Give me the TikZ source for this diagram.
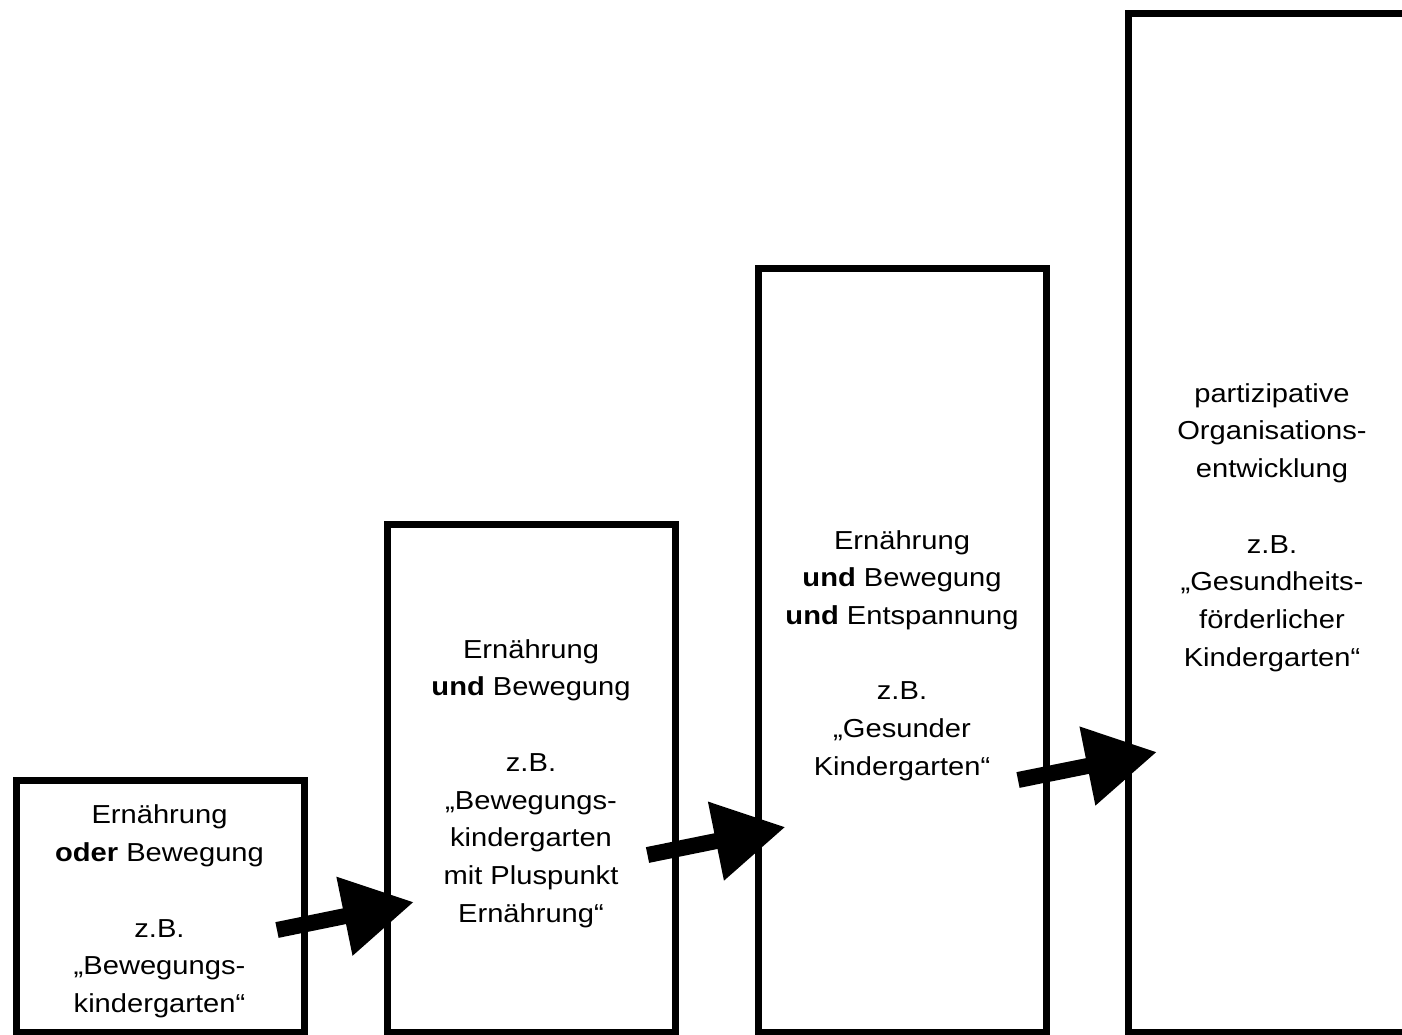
\documentclass[tikz,border=0pt]{standalone}
\usepackage{fontspec}
\setmainfont{Liberation Sans}[FakeStretch=1.12]
\usetikzlibrary{arrows.meta}
\begin{document}
\begin{tikzpicture}[x=1pt,y=-1pt,
  box/.style={draw=black, line width=7pt, inner sep=0pt, outer sep=0pt,
    minimum width=288pt, anchor=north west},
  txt/.style={align=center, font=\fontsize{26}{37.7}\selectfont, inner sep=0pt, text=black},
  bigarrow/.style={line width=16pt, line cap=butt, -{Triangle[length=71pt,width=76pt]}}]
\useasboundingbox (0,0) rectangle (1402,1035);
\clip (0,0) rectangle (1402,1035);

% boxes
\node[box, minimum height=252.5pt] (b1) at (16,780) {};
\node[box, minimum height=508.5pt] (b2) at (387,524) {};
\node[box, minimum height=764.5pt] (b3) at (758,268) {};
\node[box, minimum height=1019pt, minimum width=320pt] (b4) at (1128.5,13.5) {};

% texts
\node[txt] (t1) at (159.5,911.5) {Ernährung\\\textbf{oder} Bewegung\\[37.7pt]z.B.\\„Bewegungs-\\kindergarten“};
\node[txt] (t2) at (531,783.5) {Ernährung\\\textbf{und} Bewegung\\[37.7pt]z.B.\\„Bewegungs-\\kindergarten\\mit Pluspunkt\\Ernährung“};
\node[txt] (t3) at (902,655.5) {Ernährung\\\textbf{und} Bewegung\\\textbf{und} Entspannung\\[37.7pt]z.B.\\„Gesunder\\Kindergarten“};
\node[txt] (t4) at (1272,527.5) {partizipative\\Organisations-\\entwicklung\\[37.7pt]z.B.\\„Gesundheits-\\förderlicher\\Kindergarten“};

% arrow end points
\coordinate (a1s) at (277,930);
\coordinate (a1e) at (414,902);
\coordinate (a2s) at (647.5,855);
\coordinate (a2e) at (785.5,827);
\coordinate (a3s) at (1018,780);
\coordinate (a3e) at (1157,752);

\draw[bigarrow] (a1s) -- (a1e);
\draw[bigarrow] (a2s) -- (a2e);
\draw[bigarrow] (a3s) -- (a3e);
\end{tikzpicture}
\end{document}
